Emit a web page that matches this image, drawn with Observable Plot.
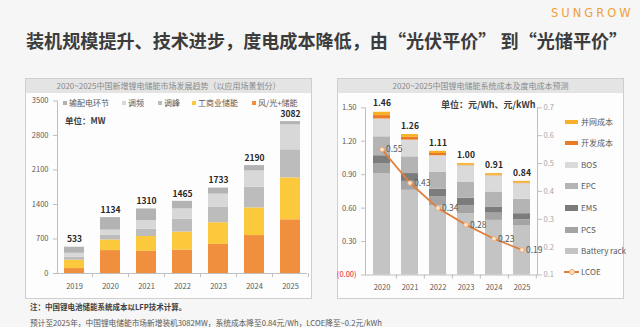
<!DOCTYPE html>
<html lang="zh-CN">
<head>
<meta charset="utf-8">
<script src="https://cdn.jsdelivr.net/npm/d3@7"></script>
<script src="https://cdn.jsdelivr.net/npm/@observablehq/plot@0.6"></script>
<style>
  html, body { margin:0; padding:0; }
  body { width:640px; height:327px; position:relative; overflow:hidden; background:#f6f6f6;
         font-family:"Noto Sans CJK SC","Noto Sans",sans-serif; color:#404040; }
  .abs { position:absolute; white-space:nowrap; }
  .panel { position:absolute; box-sizing:border-box; border:1px solid #cfcfcf; background:#fdfdfd; }
  .strip { position:absolute; left:0; right:0; top:0; height:14px; background:#e4e4e4;
           font-size:8px; line-height:14px; color:#8a8a8a; text-align:center; }
  .leg { position:absolute; font-size:8px; line-height:8px; color:#595959; white-space:nowrap; }
  .sw { position:absolute; }
</style>
</head>
<body>
<script>
// ---------- Left chart data (MW) ----------
const years1 = ["2019","2020","2021","2022","2023","2024","2025"];
const windSolar   = [100, 465, 450, 475, 590, 770, 1090];  // 风/光+储能
const commercial  = [170, 215, 300, 365, 440, 560, 850];   // 工商业储能
const peakShaving = [60, 95, 150, 265, 320, 420, 570];     // 调峰
const freqReg     = [80, 105, 170, 205, 260, 330, 506];    // 调频
const transmission= [123, 254, 240, 155, 123, 110, 66];    // 输配电环节
const totals1     = [533, 1134, 1310, 1465, 1733, 2190, 3082];
const yTicks1     = [0, 700, 1400, 2100, 2800, 3500];
const series1     = ["风/光+储能","工商业储能","调峰","调频","输配电环节"];
const colors1     = ["#f0903e","#fcc93c","#bcbcbc","#d8d8d8","#b3b3b3"];

// ---------- Right chart data (元/Wh, 元/kWh) ----------
const years2  = ["2020","2021","2022","2023","2024","2025"];
const battery = [0.91, 0.76, 0.62, 0.55, 0.49, 0.44];
const pcs     = [0.09, 0.08, 0.08, 0.07, 0.065, 0.055];
const ems     = [0.07, 0.07, 0.07, 0.07, 0.055, 0.055];
const epc     = [0.17, 0.15, 0.15, 0.14, 0.135, 0.13];
const bos     = [0.16, 0.15, 0.15, 0.15, 0.145, 0.14];
const devCost = [0.03, 0.025, 0.02, 0.005, 0.005, 0.005];
const gridCost= [0.03, 0.025, 0.02, 0.015, 0.015, 0.015];
const totals2 = [1.46, 1.26, 1.11, 1.00, 0.91, 0.84];
const lcoe    = [0.55, 0.43, 0.34, 0.28, 0.23, 0.19];
const yTicks2 = [0, 0.3, 0.6, 0.9, 1.2, 1.5];
const yTicksR = [0.1, 0.2, 0.3, 0.4, 0.5, 0.6, 0.7];
const series2 = ["Battery rack","PCS","EMS","EPC","BOS","开发成本","并网成本"];
const colors2 = ["#c4c4c4","#a4a4a4","#7c7c7c","#b4b4b4","#dadada","#ec7a25","#f8b028"];
</script>

<div class="abs" style="left:551px;top:6px;font-family:'DejaVu Sans';font-size:11.5px;letter-spacing:3px;color:#f0a035;">SUNGROW</div>
<div class="abs" style="left:26px;top:28px;font-size:18.1px;line-height:24px;font-weight:bold;color:#3c3c3c;">装机规模提升、技术进步，度电成本降低，由“光伏平价” 到“光储平价”</div>

<div class="panel" style="left:25px;top:78px;width:287px;height:221px;">
  <div class="strip">2020~2025中国新增锂电储能市场发展趋势（以应用场景划分）</div>
</div>
<div class="panel" style="left:337px;top:78px;width:287px;height:221px;">
  <div class="strip">2020~2025中国锂电储能系统成本及度电成本预测</div>
</div>

<div id="left" class="abs" style="left:25px;top:92px;"></div>
<div id="right" class="abs" style="left:337px;top:92px;"></div>

<div id="legend1"></div>
<div id="legend2"></div>

<div class="abs" style="left:65px;top:115px;font-size:8.5px;line-height:11px;font-weight:bold;color:#404040;">单位：MW</div>
<div class="abs" style="left:441px;top:99px;font-size:9px;line-height:12px;font-weight:bold;color:#404040;">单位：元/Wh、元/kWh</div>

<div class="abs" style="left:30px;top:301px;font-size:7.5px;line-height:11px;font-weight:bold;color:#404040;">注：中国锂电池储能系统成本以LFP技术计算。</div>
<div class="abs" style="left:30px;top:317px;font-size:7.7px;line-height:11px;color:#595959;">预计至2025年，中国锂电储能市场新增装机3082MW，系统成本降至0.84元/Wh，LCOE降至~0.2元/kWh</div>

<script>
const FONT = "'Noto Sans CJK SC','Noto Sans',sans-serif";

// ---------------- Left chart ----------------
const vals1 = [windSolar, commercial, peakShaving, freqReg, transmission];
const data1 = [];
years1.forEach((y, i) => series1.forEach((s, k) => data1.push({year: y, series: s, value: vals1[k][i]})));

const left = Plot.plot({
  width: 287, height: 207,
  marginLeft: 32, marginRight: 5, marginTop: 8.5, marginBottom: 26,
  style: {background: "transparent", fontFamily: FONT, fontSize: "7.5px", overflow: "visible"},
  x: {type: "band", domain: years1, paddingInner: 0.444, paddingOuter: 0.194, axis: null},
  y: {domain: [0, 3500], axis: null},
  color: {domain: series1, range: colors1},
  marks: [
    Plot.barY(data1, {x: "year", y: "value", fill: "series"}),
    Plot.ruleY([0], {stroke: "#bfbfbf"}),
    Plot.ruleX(years1, {x: d => d, dx: 18, y1: 0, y2: -82, stroke: "#bfbfbf"}),
    Plot.frame({anchor: "left", stroke: "#bfbfbf"}),
    Plot.axisY(yTicks1, {tickSize: 4, tickPadding: 5, stroke: "#bfbfbf", fill: "#595959",
      tickFormat: d => String(d), label: null}),
    Plot.axisX({tickSize: 0, tickPadding: 10, fill: "#595959", label: null}),
    Plot.text(years1, {x: d => d, y: (d, i) => totals1[i], text: (d, i) => String(totals1[i]),
      dy: -7.5, fontWeight: "bold", fontSize: 8.5, fill: "#262626"})
  ]
});
document.getElementById("left").appendChild(left);

// ---------------- Right chart ----------------
const vals2 = [battery, pcs, ems, epc, bos, devCost, gridCost];
const data2 = [];
years2.forEach((y, i) => series2.forEach((s, k) => data2.push({year: y, series: s, value: vals2[k][i]})));
const toLeft = v => (v - 0.1) * 2.5;   // secondary axis 0.1–0.7 mapped onto 0–1.5
const lineData = years2.map((y, i) => ({year: y, v: lcoe[i]}));

const right = Plot.plot({
  width: 287, height: 207,
  marginLeft: 28, marginRight: 87, marginTop: 15.3, marginBottom: 24.5,
  style: {background: "transparent", fontFamily: FONT, fontSize: "7.5px", overflow: "visible"},
  x: {type: "band", domain: years2, paddingInner: 0.4, paddingOuter: 0.2, axis: null},
  y: {domain: [0, 1.5], axis: null},
  color: {domain: series2, range: colors2},
  marks: [
    Plot.barY(data2, {x: "year", y: "value", fill: "series"}),
    Plot.ruleY([0], {stroke: "#bfbfbf"}),
    Plot.ruleX(years2, {x: d => d, dx: 14.35, y1: 0, y2: -0.036, stroke: "#bfbfbf"}),
    Plot.frame({anchor: "left", stroke: "#bfbfbf"}),
    Plot.frame({anchor: "right", stroke: "#bfbfbf"}),
    Plot.axisY(yTicks2.filter(d => d !== 0), {tickSize: 4, tickPadding: 5, stroke: "#bfbfbf", fill: "#595959",
      tickFormat: d => d.toFixed(2), label: null}),
    Plot.axisY([0], {tickSize: 4, tickPadding: 5, stroke: "#bfbfbf", fill: "#e02020",
      tickFormat: () => "(0.00)", label: null}),
    Plot.axisY(yTicksR.map(toLeft), {anchor: "right", tickSize: 4, tickPadding: 2, stroke: "#bfbfbf", fill: "#a6a6a6",
      tickFormat: d => (d / 2.5 + 0.1).toFixed(1), label: null}),
    Plot.axisX({tickSize: 0, tickPadding: 10, fill: "#595959", label: null}),
    Plot.line(lineData, {x: "year", y: d => toLeft(d.v), stroke: "#e0803c", strokeWidth: 1.8}),
    Plot.dot(lineData, {x: "year", y: d => toLeft(d.v), r: 2.3, fill: "#fde6cc", stroke: "#f0a060", strokeWidth: 0.8}),
    Plot.text(lineData, {x: "year", y: d => toLeft(d.v), text: d => d.v.toFixed(2), dx: 4, textAnchor: "start",
      fontSize: 8.5, fill: "#595959"}),
    Plot.text(years2, {x: d => d, y: (d, i) => totals2[i], text: (d, i) => totals2[i].toFixed(2),
      dy: -8.5, fontWeight: "bold", fontSize: 8.5, fill: "#262626"})
  ]
});
document.getElementById("right").appendChild(right);

// ---------------- Legends ----------------
const leg1 = document.getElementById("legend1");
const legItems1 = [
  {name: "输配电环节", color: colors1[4], x: 63},
  {name: "调频", color: colors1[3], x: 122},
  {name: "调峰", color: colors1[2], x: 158},
  {name: "工商业储能", color: colors1[1], x: 192},
  {name: "风/光+储能", color: colors1[0], x: 252}
];
legItems1.forEach(it => {
  const sw = document.createElement("div");
  sw.className = "sw";
  sw.style.cssText = `left:${it.x}px;top:100.5px;width:4px;height:4px;background:${it.color};`;
  leg1.appendChild(sw);
  const t = document.createElement("div");
  t.className = "leg";
  t.style.cssText = `left:${it.x + 6}px;top:98.5px;`;
  t.textContent = it.name;
  leg1.appendChild(t);
});

const leg2 = document.getElementById("legend2");
const legItems2 = [
  {name: "并网成本", color: colors2[6], y: 121.7, h: 4},
  {name: "开发成本", color: colors2[5], y: 142.7, h: 4},
  {name: "BOS", color: colors2[4], y: 165, h: 6},
  {name: "EPC", color: colors2[3], y: 186, h: 6},
  {name: "EMS", color: colors2[2], y: 208.3, h: 6},
  {name: "PCS", color: colors2[1], y: 230, h: 6},
  {name: "Battery rack", color: colors2[0], y: 251, h: 6},
  {name: "LCOE", color: null, y: 271.7, h: 0}
];
legItems2.forEach(it => {
  if (it.color) {
    const sw = document.createElement("div");
    sw.className = "sw";
    sw.style.cssText = `left:565px;top:${it.y - it.h / 2}px;width:13px;height:${it.h}px;background:${it.color};`;
    leg2.appendChild(sw);
  } else {
    const ln = document.createElement("div");
    ln.className = "sw";
    ln.style.cssText = `left:564px;top:${it.y - 1}px;width:15px;height:2px;background:#e0803c;`;
    leg2.appendChild(ln);
    const dt = document.createElement("div");
    dt.className = "sw";
    dt.style.cssText = `left:569px;top:${it.y - 2.5}px;width:4px;height:4px;border-radius:50%;background:#fde6cc;border:0.5px solid #f0a060;`;
    leg2.appendChild(dt);
  }
  const t = document.createElement("div");
  t.className = "leg";
  t.style.cssText = `left:581px;top:${it.y - 4}px;`;
  t.textContent = it.name;
  leg2.appendChild(t);
});
</script>
</body>
</html>
